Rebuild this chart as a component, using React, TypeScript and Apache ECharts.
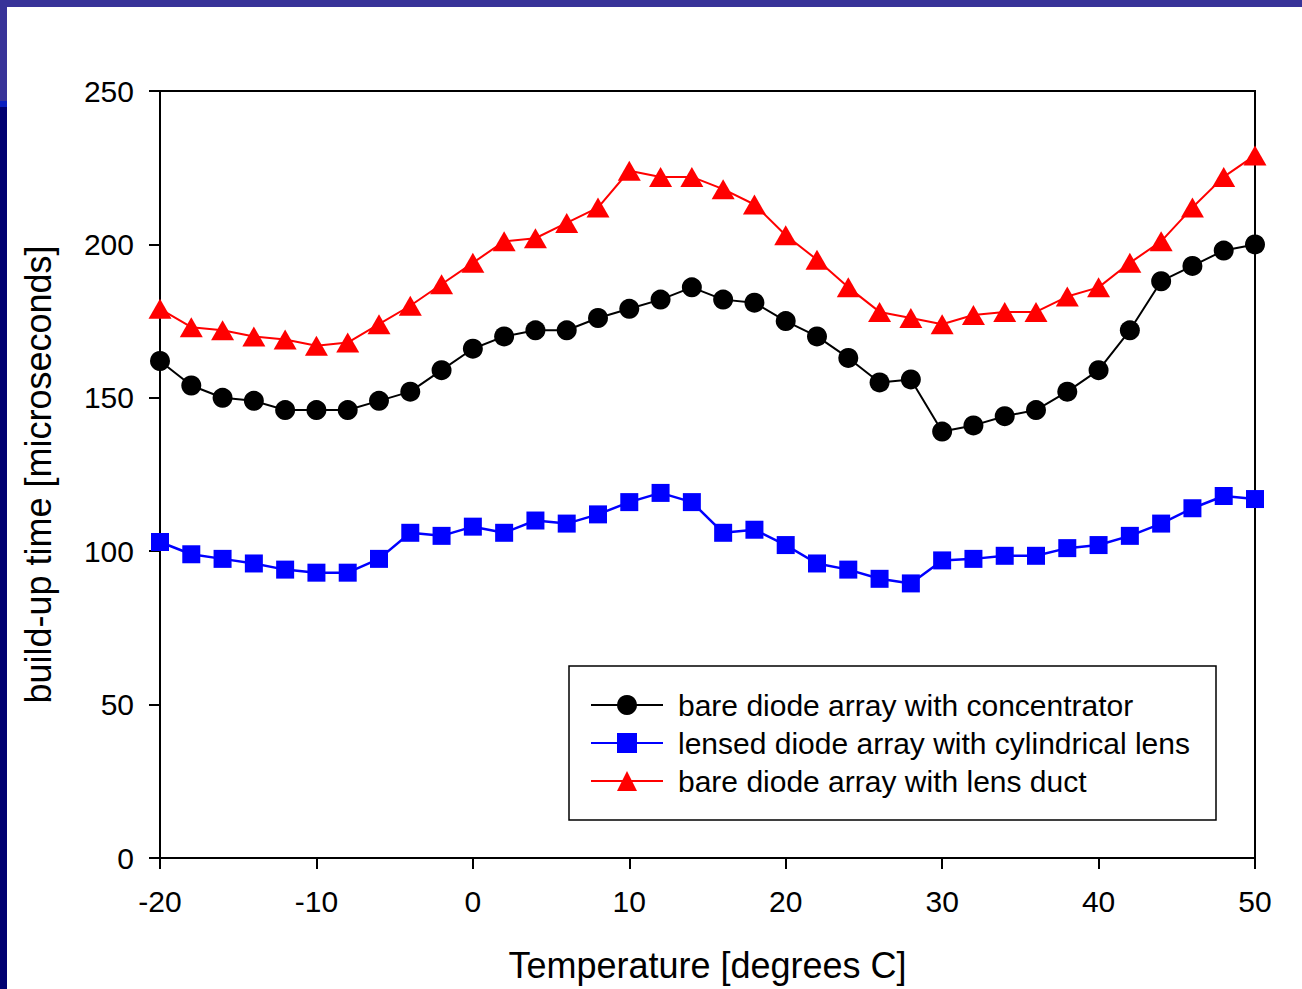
import React, { useEffect, useRef } from "react";
import * as echarts from "echarts";

const temperatures = [-20, -18, -16, -14, -12, -10, -8, -6, -4, -2, 0, 2, 4, 6, 8, 10, 12, 14, 16, 18, 20, 22, 24, 26, 28, 30, 32, 34, 36, 38, 40, 42, 44, 46, 48, 50];

const concentrator = [162, 154, 150, 149, 146, 146, 146, 149, 152, 159, 166, 170, 172, 172, 176, 179, 182, 186, 182, 181, 175, 170, 163, 155, 156, 139, 141, 144, 146, 152, 159, 172, 188, 193, 198, 200];
const cylindricalLens = [103, 99, 97.5, 96, 94, 93, 93, 97.5, 106, 105, 108, 106, 110, 109, 112, 116, 119, 116, 106, 107, 102, 96, 94, 91, 89.5, 97, 97.5, 98.5, 98.5, 101, 102, 105, 109, 114, 118, 117];
const lensDuct = [179, 173, 172, 170, 169, 167, 168, 174, 180, 187, 194, 201, 202, 207, 212, 224, 222, 222, 218, 213, 203, 195, 186, 178, 176, 174, 177, 178, 178, 183, 186, 194, 201, 212, 222, 229];

const seriesNames = [
  "bare diode array with concentrator",
  "lensed diode array with cylindrical lens",
  "bare diode array with lens duct",
];

const xTitle = "Temperature [degrees C]";
const yTitle = "build-up time [microseconds]";

const FONT = "'Liberation Sans', Arial, Helvetica, sans-serif";

function pairs(ys: number[]) {
  return temperatures.map((t, i) => [t, ys[i]]);
}

export default function App() {
  const ref = useRef<HTMLDivElement>(null);
  useEffect(() => {
    if (!ref.current) return;
    const chart = echarts.init(ref.current, undefined, { renderer: "svg" });
    chart.setOption({
      animation: false,
      backgroundColor: "#ffffff",
      textStyle: { fontFamily: FONT },
      graphic: [
        { type: "rect", shape: { x: 0, y: 0, width: 1302, height: 7 }, style: { fill: "#383399" }, silent: true },
        { type: "rect", shape: { x: 0, y: 0, width: 7, height: 101 }, style: { fill: "#383399" }, silent: true },
        { type: "rect", shape: { x: 0, y: 101, width: 7, height: 6 }, style: { fill: "#0a1fbf" }, silent: true },
        { type: "rect", shape: { x: 0, y: 107, width: 7, height: 882 }, style: { fill: "#000070" }, silent: true },
        {
          type: "rect",
          shape: { x: 569, y: 666, width: 647, height: 154 },
          style: { fill: "#ffffff", stroke: "#000000", lineWidth: 1.5 },
          z: 5,
          silent: true,
        },
      ],
      grid: {
        left: 160,
        right: 47,
        top: 91,
        bottom: 131,
        show: true,
        borderColor: "#000000",
        borderWidth: 2,
        backgroundColor: "transparent",
      },
      legend: {
        orient: "vertical",
        left: 585,
        top: 685,
        itemWidth: 72,
        itemHeight: 25,
        itemGap: 8,
        z: 6,
        data: seriesNames,
        textStyle: { fontFamily: FONT, fontSize: 30, color: "#000000", padding: [0, 0, 0, 10] },
      },
      xAxis: {
        type: "value",
        min: -20,
        max: 50,
        interval: 10,
        name: xTitle,
        nameLocation: "middle",
        nameGap: 89,
        nameTextStyle: { fontFamily: FONT, fontSize: 36, color: "#000000" },
        axisLine: { show: true, onZero: false, lineStyle: { color: "#000000", width: 2 } },
        axisTick: { show: true, inside: false, length: 11, lineStyle: { color: "#000000", width: 2 } },
        axisLabel: { fontFamily: FONT, fontSize: 30, color: "#000000", margin: 28, showMinLabel: true, showMaxLabel: true },
        splitLine: { show: false },
      },
      yAxis: {
        type: "value",
        min: 0,
        max: 250,
        interval: 50,
        name: yTitle,
        nameLocation: "middle",
        nameGap: 104,
        nameRotate: 90,
        nameTextStyle: { fontFamily: FONT, fontSize: 36, color: "#000000" },
        axisLine: { show: true, onZero: false, lineStyle: { color: "#000000", width: 2 } },
        axisTick: { show: true, inside: false, length: 11, lineStyle: { color: "#000000", width: 2 } },
        axisLabel: { fontFamily: FONT, fontSize: 30, color: "#000000", margin: 26, showMinLabel: true, showMaxLabel: true },
        splitLine: { show: false },
      },
      series: [
        {
          name: seriesNames[0],
          type: "line",
          data: pairs(concentrator),
          symbol: "circle",
          symbolSize: 20,
          clip: false,
          z: 3,
          lineStyle: { color: "#000000", width: 2 },
          itemStyle: { color: "#000000" },
        },
        {
          name: seriesNames[1],
          type: "line",
          data: pairs(cylindricalLens),
          symbol: "rect",
          symbolSize: 18,
          clip: false,
          z: 3,
          lineStyle: { color: "#0000ff", width: 2.5 },
          itemStyle: { color: "#0000ff" },
        },
        {
          name: seriesNames[2],
          type: "line",
          data: pairs(lensDuct),
          symbol: "triangle",
          symbolSize: [23, 20],
          clip: false,
          z: 3,
          lineStyle: { color: "#ff0000", width: 2 },
          itemStyle: { color: "#ff0000" },
        },
      ],
    });
    return () => chart.dispose();
  }, []);
  return (
    <div
      ref={ref}
      style={{ position: "fixed", left: 0, top: 0, width: 1302, height: 989 }}
    />
  );
}
